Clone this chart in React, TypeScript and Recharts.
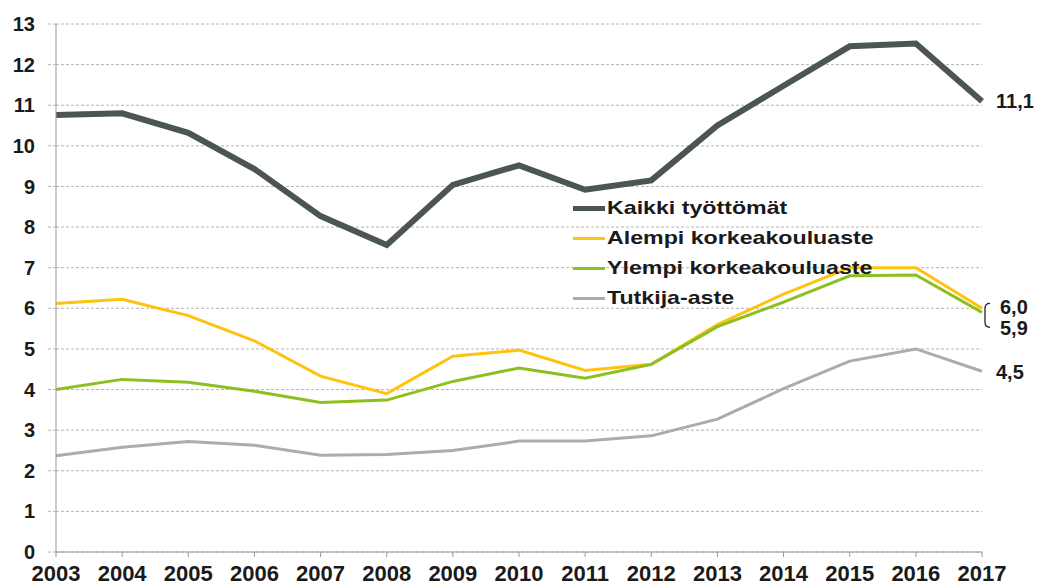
import React from "react";
import { LineChart, Line, XAxis, YAxis, CartesianGrid, LabelList } from "recharts";

const years = ["2003", "2004", "2005", "2006", "2007", "2008", "2009", "2010", "2011", "2012", "2013", "2014", "2015", "2016", "2017"];
const kaikki = [10.76, 10.8, 10.32, 9.43, 8.27, 7.56, 9.04, 9.52, 8.92, 9.15, 10.5, 11.48, 12.45, 12.52, 11.1];
const alempi = [6.12, 6.22, 5.82, 5.2, 4.33, 3.9, 4.82, 4.97, 4.47, 4.62, 5.6, 6.35, 7.0, 7.0, 6.0];
const ylempi = [4.0, 4.25, 4.18, 3.96, 3.68, 3.74, 4.2, 4.53, 4.28, 4.62, 5.55, 6.15, 6.8, 6.82, 5.9];
const tutkija = [2.37, 2.58, 2.72, 2.63, 2.38, 2.4, 2.5, 2.73, 2.73, 2.86, 3.27, 4.02, 4.7, 5.0, 4.45];
const yTicks = [0, 1, 2, 3, 4, 5, 6, 7, 8, 9, 10, 11, 12, 13];

const data = years.map((y, i) => ({
  year: y,
  kaikki: kaikki[i],
  alempi: alempi[i],
  ylempi: ylempi[i],
  tutkija: tutkija[i],
}));

const font = "'Liberation Sans', Arial, sans-serif";
const colors = { kaikki: "#4b5553", alempi: "#ffc20e", ylempi: "#8dbf1f", tutkija: "#a9aeab" };

const series = [
  { key: "kaikki", name: "Kaikki työttömät", color: colors.kaikki, width: 6 },
  { key: "alempi", name: "Alempi korkeakouluaste", color: colors.alempi, width: 3 },
  { key: "ylempi", name: "Ylempi korkeakouluaste", color: colors.ylempi, width: 3 },
  { key: "tutkija", name: "Tutkija-aste", color: colors.tutkija, width: 3 },
];

const lastIdx = years.length - 1;

// value label at the right end of a line
const endLabel = (dx: number, dy: number, bracket = false) => (props: any) => {
  const { x, y, index, value } = props;
  if (index !== lastIdx) return null;
  return (
    <g>
      {bracket && (
        <path
          d={`M ${x + 8} ${y - 5} Q ${x + 3} ${y - 5} ${x + 3} ${y} L ${x + 3} ${y + 14} Q ${x + 3} ${y + 19} ${x + 8} ${y + 19}`}
          fill="none"
          stroke="#222"
          strokeWidth={1.3}
        />
      )}
      <text x={x + dx} y={y + dy} dominantBaseline="central" fontSize={20} fontWeight={700} fill="#1a1a1a" fontFamily={font}>
        {Number(value).toFixed(1).replace(".", ",")}
      </text>
    </g>
  );
};

export default function App() {
  return (
    <div style={{ position: "absolute", left: 0, top: 0, width: 1037, height: 585, background: "#fff" }}>
      <LineChart width={1037} height={585} data={data} margin={{ top: 24, right: 55, bottom: 3, left: 0 }}>
        <CartesianGrid vertical={false} stroke="#b4b4b4" strokeDasharray="3 2" />
        <XAxis
          dataKey="year"
          height={30}
          axisLine={{ stroke: "#999" }}
          tickLine={{ stroke: "#999" }}
          tickSize={5}
          tickMargin={8}
          interval={0}
          tick={{ fontSize: 22, fontWeight: 700, fill: "#1a1a1a", fontFamily: font }}
        />
        <YAxis
          width={56}
          domain={[0, 13]}
          ticks={yTicks}
          interval={0}
          axisLine={{ stroke: "#999" }}
          tickLine={{ stroke: "#b4b4b4", strokeDasharray: "3 2" }}
          tickSize={8}
          tickMargin={13}
          tick={{ fontSize: 20, fontWeight: 700, fill: "#1a1a1a", fontFamily: font }}
        />
        <Line dataKey="kaikki" stroke={colors.kaikki} strokeWidth={6} dot={false} isAnimationActive={false}>
          <LabelList dataKey="kaikki" content={endLabel(14, 0)} />
        </Line>
        <Line dataKey="alempi" stroke={colors.alempi} strokeWidth={3} dot={false} isAnimationActive={false}>
          <LabelList dataKey="alempi" content={endLabel(18, -1, true)} />
        </Line>
        <Line dataKey="ylempi" stroke={colors.ylempi} strokeWidth={3} dot={false} isAnimationActive={false}>
          <LabelList dataKey="ylempi" content={endLabel(18, 16)} />
        </Line>
        <Line dataKey="tutkija" stroke={colors.tutkija} strokeWidth={3} dot={false} isAnimationActive={false}>
          <LabelList dataKey="tutkija" content={endLabel(14, 1)} />
        </Line>
      </LineChart>
      <div style={{ position: "absolute", left: 573, top: 193, fontFamily: font }}>
        {series.map((s) => (
          <div key={s.key} style={{ display: "flex", alignItems: "center", height: 30 }}>
            <div style={{ width: 32, height: s.width === 6 ? 5 : 3, background: s.color, marginRight: 2 }} />
            <span
              style={{
                display: "inline-block",
                fontSize: 19,
                fontWeight: 700,
                color: "#1a1a1a",
                whiteSpace: "nowrap",
                transform: "scaleX(1.22)",
                transformOrigin: "left center",
              }}
            >
              {s.name}
            </span>
          </div>
        ))}
      </div>
    </div>
  );
}
